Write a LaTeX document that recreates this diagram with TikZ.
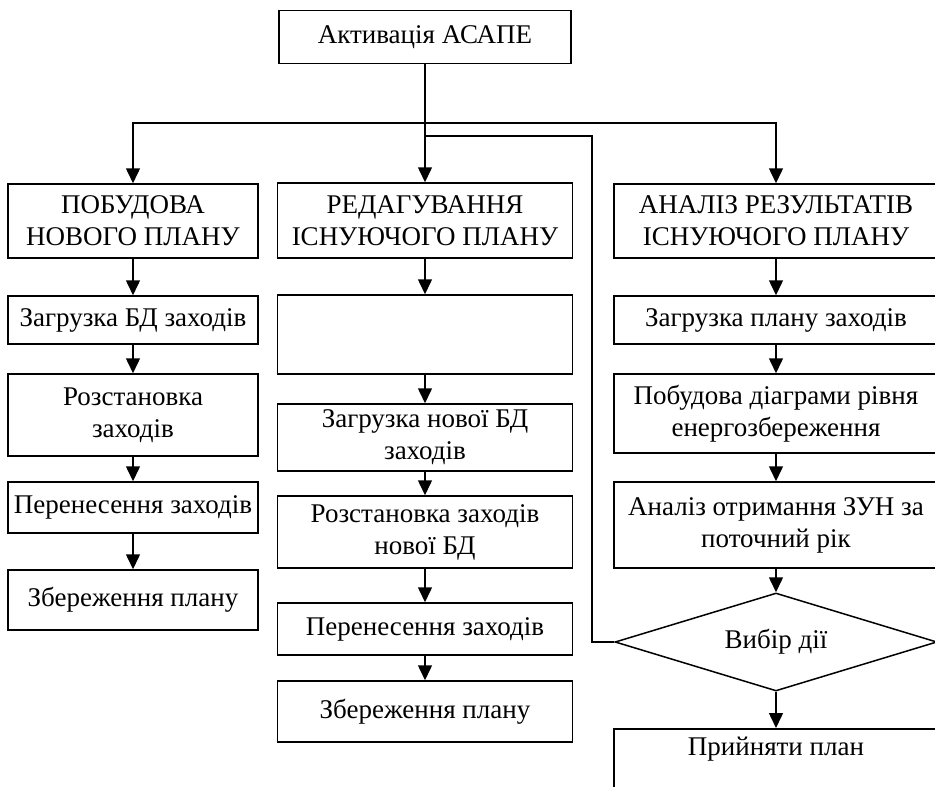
\documentclass[tikz,border=0pt]{standalone}
\usepackage{fontspec}
\setmainfont{Liberation Serif}
\usepackage{tikz}
\usetikzlibrary{arrows.meta,shapes.geometric}
\tikzstyle{block}=[rectangle, draw, line width=1.5pt, align=center, inner sep=2pt, font=\fontsize{27}{32}\selectfont]
\tikzstyle{colA}=[block, minimum width=250pt]
\tikzstyle{colB}=[block, minimum width=295pt]
\tikzstyle{colC}=[block, minimum width=324pt]
\tikzstyle{choice}=[diamond, draw, line width=1.5pt, aspect=3.3, inner sep=0pt, minimum width=322pt, minimum height=98pt, font=\fontsize{27}{32}\selectfont]
\tikzstyle{edge}=[line width=1.5pt, -{Triangle[length=15pt, width=14pt]}]
\tikzstyle{line}=[line width=1.5pt]

\begin{document}
\begin{tikzpicture}[x=1pt, y=-1pt]
      \useasboundingbox (0,0) rectangle (935,787);
      \clip (0,0) rectangle (935,787);
      \node(act) [block, minimum width=292pt, minimum height=53pt] at (425, 37){Активація АСАПЕ};
      % first column
      \node(new1) [colA, minimum height=74pt] at (133, 221){ПОБУДОВА\\НОВОГО ПЛАНУ};
      \node(new2) [colA, minimum height=48pt] at (133, 320){Загрузка БД заходів};
      \node(new3) [colA, minimum height=82pt] at (133, 415){Розстановка\\заходів};
      \node(new4) [colA, minimum height=51pt] at (133, 507.5){Перенесення заходів};
      \node(new5) [colA, minimum height=60pt] at (133, 600){Збереження плану};
      % second column
      \node(edit1) [colB, minimum height=75pt] at (425, 220.5){РЕДАГУВАННЯ\\ІСНУЮЧОГО ПЛАНУ};
      \node(edit2) [colB, minimum height=79pt] at (425, 334.5){};
      \node(edit3) [colB, minimum height=67pt] at (425, 437.5){Загрузка нової БД\\заходів};
      \node(edit4) [colB, minimum height=72pt] at (425, 532){Розстановка заходів\\нової БД};
      \node(edit5) [colB, minimum height=52pt] at (425, 629){Перенесення заходів};
      \node(edit6) [colB, minimum height=61pt] at (425, 711.5){Збереження плану};
      % third column
      \node(an1) [colC, minimum height=74pt] at (776, 221){АНАЛІЗ РЕЗУЛЬТАТІВ\\ІСНУЮЧОГО ПЛАНУ};
      \node(an2) [colC, minimum height=48pt] at (776, 320){Загрузка плану заходів};
      \node(an3) [colC, minimum height=79pt] at (776, 413.5){Побудова діаграми рівня\\енергозбереження};
      \node(an4) [colC, minimum height=86pt] at (776, 525){Аналіз отримання ЗУН за\\поточний рік};
      \node(pick) [choice] at (776, 642){Вибір дії};
      \node(accept) [colC, anchor=north, text height=25pt, text depth=40pt] at (776, 728){Прийняти план};
      \coordinate(split) at (425, 123);
      \coordinate(split2) at (425, 136);
      \coordinate(bend) at (592, 136);
      \draw[line] (act) -- (split);
      \draw[edge] (split) -| (new1);
      \draw[edge] (split) -- (edit1);
      \draw[edge] (split) -| (an1);
      \draw[line] (split2) -- (bend) |- (pick);
      \draw[edge] (new1) -- (new2);
      \draw[edge] (new2) -- (new3);
      \draw[edge] (new3) -- (new4);
      \draw[edge] (new4) -- (new5);
      \draw[edge] (edit1) -- (edit2);
      \draw[edge] (edit2) -- (edit3);
      \draw[edge] (edit3) -- (edit4);
      \draw[edge] (edit4) -- (edit5);
      \draw[edge] (edit5) -- (edit6);
      \draw[edge] (an1) -- (an2);
      \draw[edge] (an2) -- (an3);
      \draw[edge] (an3) -- (an4);
      \draw[edge] (an4) -- (pick);
      \draw[edge] (pick) -- (accept);
    \end{tikzpicture}
\end{document}
